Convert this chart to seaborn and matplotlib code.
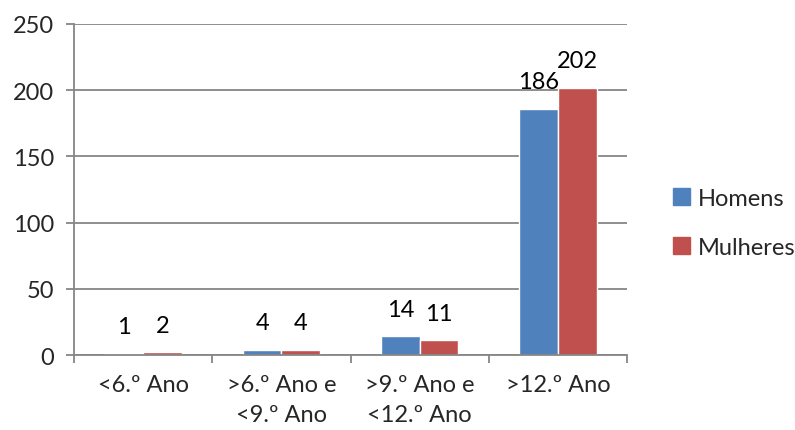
import seaborn as sns
import matplotlib.pyplot as plt
import pandas as pd
import numpy as np

categorias = ["<6.º Ano", ">6.º Ano e\n<9.º Ano", ">9.º Ano e\n<12.º Ano", ">12.º Ano"]
homens = [1, 4, 14, 186]
mulheres = [2, 4, 11, 202]
series = ["Homens", "Mulheres"]
cores = ["#4F81BD", "#C0504D"]

df = pd.DataFrame({
    "cat": categorias * 2,
    "valor": homens + mulheres,
    "grupo": [series[0]] * 4 + [series[1]] * 4,
})

sns.set_theme(style="white")
plt.rcParams["font.family"] = ["Lato", "DejaVu Sans"]
fs = 17

fig = plt.figure(figsize=(7.95, 4.31), dpi=100)
ax = fig.add_axes([0.093, 0.174, 0.696, 0.768])

sns.barplot(data=df, x="cat", y="valor", hue="grupo", palette=cores,
            width=0.56, saturation=1, ax=ax, legend=False)

for cont in ax.containers:
    ax.bar_label(cont, padding=12, fontsize=fs, color="black")

ax.set_ylim(0, 250)
ax.set_yticks(np.arange(0, 251, 50))
ax.set_xlim(-0.5, 3.5)
ax.yaxis.grid(True, color="#868686", lw=1.3)
ax.set_axisbelow(True)
for s in ["top", "right"]:
    ax.spines[s].set_visible(False)
for s in ["left", "bottom"]:
    ax.spines[s].set_color("#868686")
    ax.spines[s].set_linewidth(1.3)
ax.set_xlabel("")
ax.set_ylabel("")
ax.tick_params(axis="y", length=6, width=1.3, color="#868686", labelsize=fs, pad=8, left=True)
ax.tick_params(axis="x", which="major", length=0, labelsize=fs, pad=14)
ax.set_xticks(np.arange(-0.5, 3.6, 1), minor=True)
ax.tick_params(axis="x", which="minor", length=6, width=1.3, color="#868686", bottom=True)
for lbl in ax.get_xticklabels():
    lbl.set_linespacing(1.5)

handles = [plt.Rectangle((0, 0), 1, 1, color=c) for c in cores]
fig.legend(handles, series, loc="center left", bbox_to_anchor=(0.82, 0.481),
           frameon=False, fontsize=fs, handlelength=0.7, handleheight=0.7,
           handletextpad=0.35, labelspacing=1.2)

fig.savefig("out.png", dpi=100)
